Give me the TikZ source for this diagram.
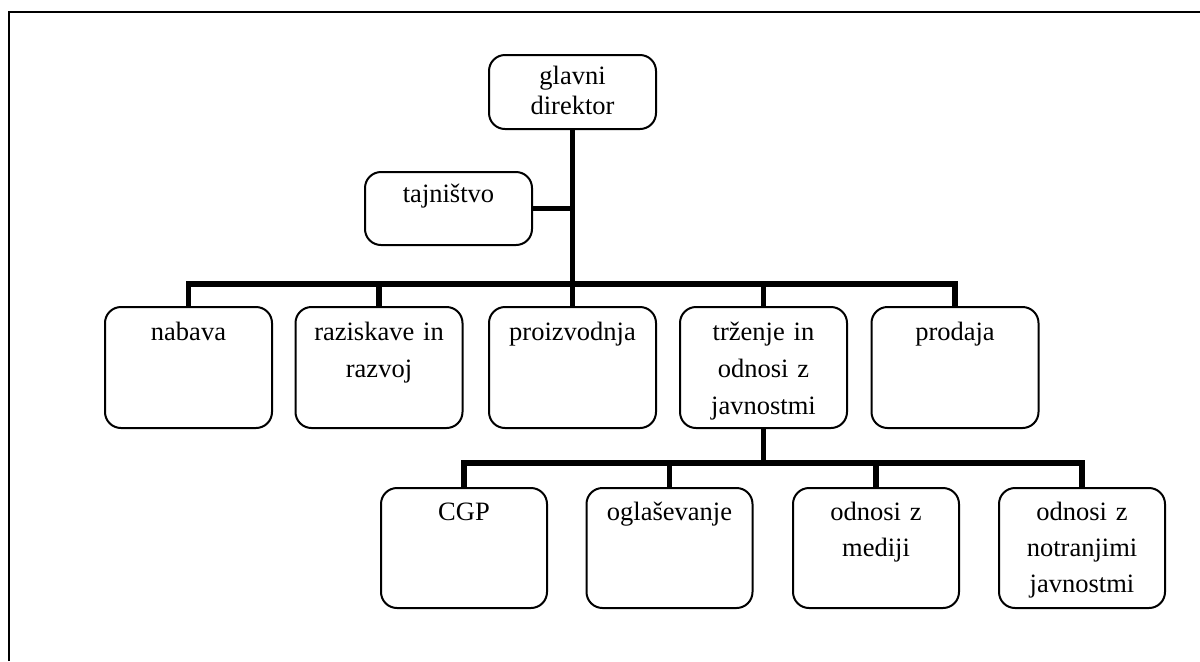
\documentclass[tikz,border=0pt]{standalone}
\usepackage{fontspec}
\setmainfont{Liberation Serif}
\begin{document}
\begin{tikzpicture}[x=0.5pt,y=-0.5pt,
  unit/.style={draw=black, line width=1pt, rounded corners=8pt, inner sep=0pt,
    font=\fontsize{13.25}{18.5}\selectfont, text width=83.5pt, align=center},
  toprow/.style={unit, text height=16.5pt, text depth=44pt},
  lowrow/.style={unit, text height=16pt, text depth=44pt},
  link/.style={line width=2.8pt, line join=miter},
  frameline/.style={line width=1.3pt}]
\useasboundingbox (0,0) rectangle (1200,661);

% page frame (left and top edges)
\draw[frameline] (9,661) -- (9,12) -- (1200,12);

% management
\node[unit, text height=14.5pt, text depth=22.5pt] (gd) at (572.5,92)
  {\parbox[t]{83.5pt}{\centering\fontsize{13.25}{15}\selectfont glavni\\direktor}};
\node[unit, text height=15pt, text depth=21.5pt] (taj) at (448.5,208.5)
  {\parbox[t]{83.5pt}{\centering tajništvo}};

% departments
\node[toprow] (nab) at (188.5,367.5) {\parbox[t]{83.5pt}{\centering nabava}};
\node[toprow] (raz) at (379,367.5) {\parbox[t]{83.5pt}{\centering raziskave in\\razvoj}};
\node[toprow] (pro) at (572.5,367.5) {\parbox[t]{83.5pt}{\centering proizvodnja}};
\node[toprow] (trz) at (763.5,367.5) {\parbox[t]{83.5pt}{\centering trženje in\\odnosi z\\javnostmi}};
\node[toprow] (prd) at (955,367.5) {\parbox[t]{83.5pt}{\centering prodaja}};

% marketing units
\node[lowrow, text width=83pt] (cgp) at (464,548) {\parbox[t]{83pt}{\centering CGP}};
\node[lowrow, text width=83pt] (ogl) at (669.5,548) {\parbox[t]{83pt}{\centering oglaševanje}};
\node[lowrow, text width=83pt] (med) at (876,548) {\parbox[t]{83pt}{\centering\fontsize{13.25}{18}\selectfont odnosi z\\mediji}};
\node[lowrow, text width=83pt] (not) at (1082,548) {\parbox[t]{83pt}{\centering\fontsize{13.25}{18}\selectfont odnosi z\\notranjimi\\javnostmi}};

% bus levels
\coordinate (busA) at (572.5,284);
\coordinate (busB) at (763.5,463);

% connectors
\draw[link] (gd.south) -- (pro.north);
\draw[link] (taj.east) -- (taj.east -| gd.south);
\draw[link] (nab.north) -- (nab.north |- busA) -- (prd.north |- busA) -- (prd.north);
\draw[link] (raz.north) -- (raz.north |- busA);
\draw[link] (trz.north) -- (trz.north |- busA);
\draw[link] (trz.south) -- (trz.south |- busB);
\draw[link] (cgp.north) -- (cgp.north |- busB) -- (not.north |- busB) -- (not.north);
\draw[link] (ogl.north) -- (ogl.north |- busB);
\draw[link] (med.north) -- (med.north |- busB);
\end{tikzpicture}
\end{document}
